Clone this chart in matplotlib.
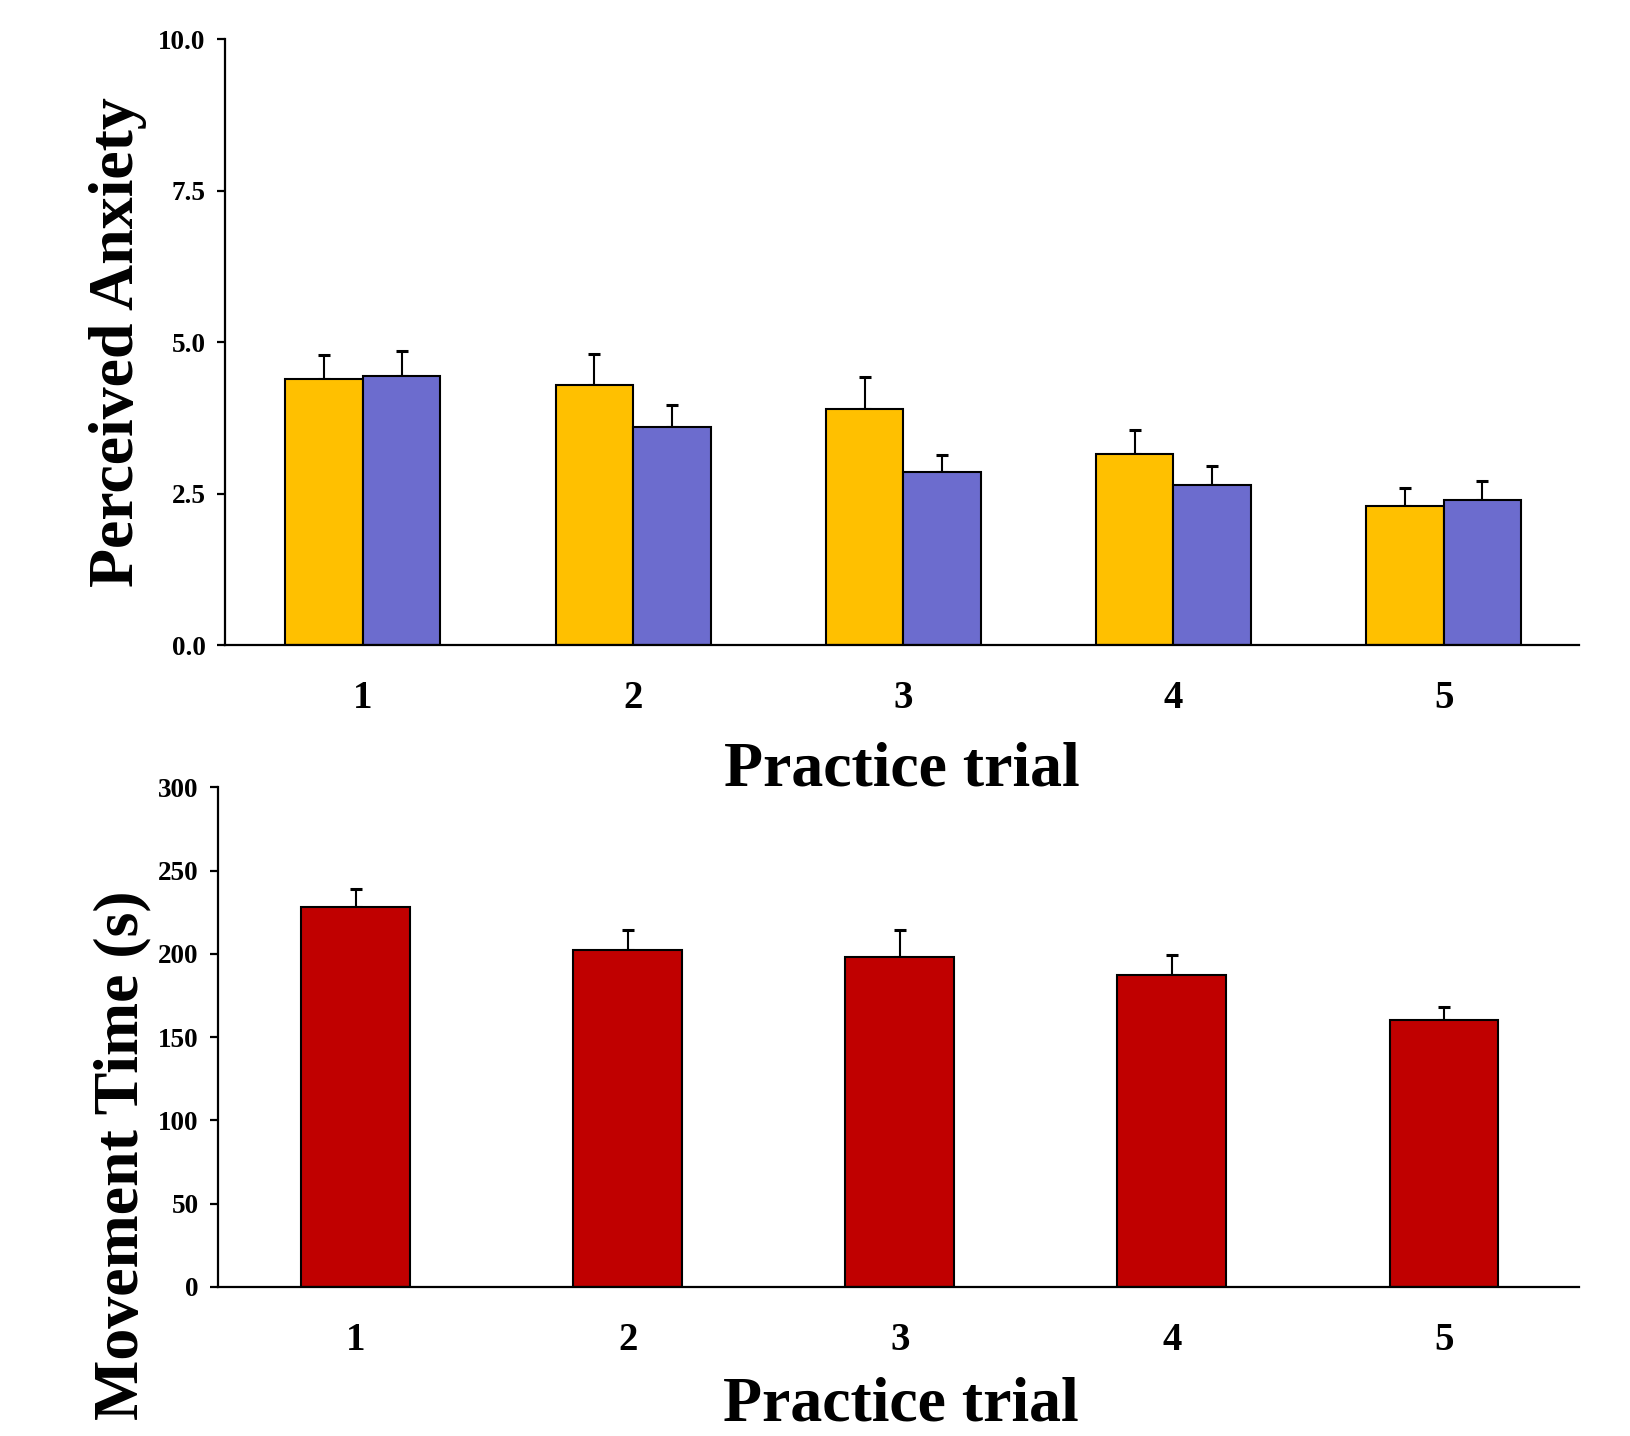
import numpy as np
import matplotlib
matplotlib.use("Agg")
import matplotlib.pyplot as plt

# Data
trials = [1, 2, 3, 4, 5]
tick_labels = ["1", "2", "3", "4", "5"]

anx_group_a = [4.40, 4.30, 3.90, 3.15, 2.30]
anx_group_a_se = [0.39, 0.50, 0.53, 0.40, 0.30]
anx_group_b = [4.45, 3.60, 2.85, 2.65, 2.40]
anx_group_b_se = [0.40, 0.37, 0.29, 0.31, 0.31]

move_time = [228, 202, 198, 187, 160]
move_time_se = [11, 12, 16, 12, 8]

anx_ticks = [0.0, 2.5, 5.0, 7.5, 10.0]
time_ticks = [0, 50, 100, 150, 200, 250, 300]

plt.rcParams["font.family"] = ["Liberation Serif", "DejaVu Serif"]
plt.rcParams["font.weight"] = "bold"

fig = plt.figure(figsize=(16.31, 14.36), dpi=100)
ax1 = fig.add_axes([0.138, 0.5508, 0.830, 0.4217])
ax2 = fig.add_axes([0.1337, 0.1038, 0.8345, 0.348])

x = np.array(trials, dtype=float)


def style_axis(ax):
    for side in ["top", "right"]:
        ax.spines[side].set_visible(False)
    for side in ["left", "bottom"]:
        ax.spines[side].set_linewidth(1.6)
    ax.tick_params(axis="y", direction="out", length=6, width=1.6, pad=8,
                   labelsize=19.5)
    ax.tick_params(axis="x", length=0, pad=25, labelsize=28)
    ax.set_xticks(x)
    ax.set_xticklabels(tick_labels, fontweight="bold")


# ---------------------------------------------------------------------------------------------
# Perceived anxiety
w = 0.287
err_kw = dict(fmt="none", ecolor="black", elinewidth=1.5, capsize=4.5, capthick=2.2)
ax1.bar(x - w / 2, anx_group_a, width=w, color="#FFC000", edgecolor="black",
        linewidth=1.5, zorder=2)
ax1.bar(x + w / 2, anx_group_b, width=w, color="#6C6CCE", edgecolor="black",
        linewidth=1.5, zorder=2)
ax1.errorbar(x - w / 2, anx_group_a, yerr=[np.zeros(5), anx_group_a_se], zorder=1, **err_kw)
ax1.errorbar(x + w / 2, anx_group_b, yerr=[np.zeros(5), anx_group_b_se], zorder=1, **err_kw)
ax1.set_xlim(0.49, 5.5)
ax1.set_ylim(0, 10)
ax1.set_yticks(anx_ticks)
ax1.set_yticklabels([f"{t:.1f}" for t in anx_ticks], fontweight="bold")
style_axis(ax1)
ax1.set_ylabel("Perceived Anxiety", fontsize=46, fontweight="bold")
ax1.yaxis.set_label_coords(-0.079, 0.5)
ax1.yaxis.label.set_va("center")
ax1.set_xlabel("Practice trial", fontsize=46, fontweight="bold")
ax1.xaxis.set_label_coords(0.5, -0.207)
ax1.xaxis.label.set_va("center")

# ---------------------------------------------------------------------------------------------
# Movement time
w2 = 0.40
ax2.bar(x, move_time, width=w2, color="#C00000", edgecolor="black",
        linewidth=1.5, zorder=2)
ax2.errorbar(x, move_time, yerr=[np.zeros(5), move_time_se], zorder=1, **err_kw)
ax2.set_xlim(0.494, 5.497)
ax2.set_ylim(0, 300)
ax2.set_yticks(time_ticks)
ax2.set_yticklabels([str(t) for t in time_ticks], fontweight="bold")
style_axis(ax2)
ax2.set_ylabel("Movement Time (s)", fontsize=46, fontweight="bold")
ax2.yaxis.set_label_coords(-0.0705, 0.264)
ax2.yaxis.label.set_va("center")
ax2.set_xlabel("Practice trial", fontsize=46, fontweight="bold")
ax2.xaxis.set_label_coords(0.502, -0.238)
ax2.xaxis.label.set_va("center")

fig.savefig("out.png", dpi=100)
